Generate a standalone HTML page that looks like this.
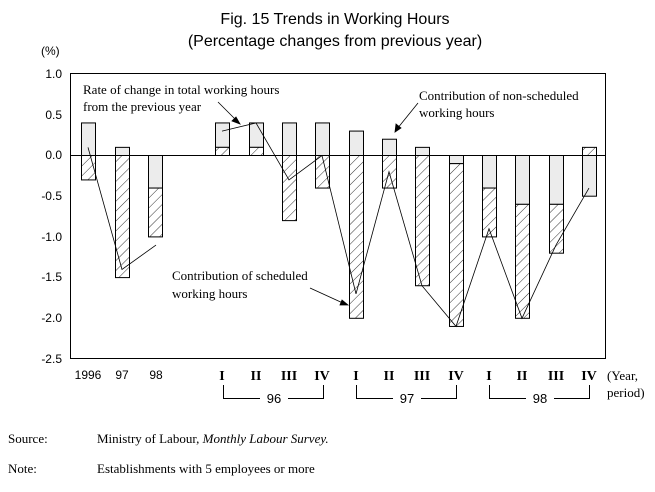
<!DOCTYPE html>
<html><head><style>
body{margin:0;background:#fff;width:655px;height:487px;overflow:hidden}
</style></head><body>
<svg width="655" height="487" xmlns="http://www.w3.org/2000/svg" font-family="Liberation Sans, sans-serif">
<defs>
<pattern id="h" patternUnits="userSpaceOnUse" width="7" height="7" patternTransform="rotate(45)">
<rect width="7" height="7" fill="#fff"/><line x1="0" y1="0" x2="0" y2="7" stroke="#000" stroke-width="0.8"/>
</pattern>
</defs>
<text x="335" y="24" font-size="16" text-anchor="middle">Fig. 15  Trends in Working Hours</text>
<text x="335" y="46" font-size="16" text-anchor="middle">(Percentage changes from previous year)</text>
<text x="41" y="55" font-size="12">(%)</text>
<g font-size="12" text-anchor="end">
<text x="62" y="78">1.0</text><text x="62" y="119">0.5</text><text x="62" y="159">0.0</text>
<text x="62" y="200">-0.5</text><text x="62" y="241">-1.0</text><text x="62" y="281">-1.5</text>
<text x="62" y="322">-2.0</text><text x="62" y="363">-2.5</text>
</g>
<rect x="70.5" y="73.5" width="535" height="285" fill="none" stroke="#000"/>
<g stroke="#000" stroke-width="1">
<rect x="81.5" y="122.94" width="14" height="32.56" fill="#ececec"/><rect x="81.5" y="155.5" width="14" height="24.42" fill="url(#h)"/>
<rect x="115.5" y="147.36" width="14" height="8.14" fill="#ececec"/><rect x="115.5" y="155.5" width="14" height="122.1" fill="url(#h)"/>
<rect x="148.5" y="155.5" width="14" height="32.56" fill="#ececec"/><rect x="148.5" y="188.06" width="14" height="48.84" fill="url(#h)"/>
<rect x="215.5" y="122.94" width="14" height="24.42" fill="#ececec"/><rect x="215.5" y="147.36" width="14" height="8.14" fill="url(#h)"/>
<rect x="249.5" y="122.94" width="14" height="24.42" fill="#ececec"/><rect x="249.5" y="147.36" width="14" height="8.14" fill="url(#h)"/>
<rect x="282.5" y="122.94" width="14" height="32.56" fill="#ececec"/><rect x="282.5" y="155.5" width="14" height="65.12" fill="url(#h)"/>
<rect x="315.5" y="122.94" width="14" height="32.56" fill="#ececec"/><rect x="315.5" y="155.5" width="14" height="32.56" fill="url(#h)"/>
<rect x="349.5" y="131.08" width="14" height="24.42" fill="#ececec"/><rect x="349.5" y="155.5" width="14" height="162.8" fill="url(#h)"/>
<rect x="382.5" y="139.22" width="14" height="16.28" fill="#ececec"/><rect x="382.5" y="155.5" width="14" height="32.56" fill="url(#h)"/>
<rect x="415.5" y="147.36" width="14" height="8.14" fill="#ececec"/><rect x="415.5" y="155.5" width="14" height="130.24" fill="url(#h)"/>
<rect x="449.5" y="155.5" width="14" height="8.14" fill="#ececec"/><rect x="449.5" y="163.64" width="14" height="162.8" fill="url(#h)"/>
<rect x="482.5" y="155.5" width="14" height="32.56" fill="#ececec"/><rect x="482.5" y="188.06" width="14" height="48.84" fill="url(#h)"/>
<rect x="515.5" y="155.5" width="14" height="48.84" fill="#ececec"/><rect x="515.5" y="204.34" width="14" height="113.96" fill="url(#h)"/>
<rect x="549.5" y="155.5" width="14" height="48.84" fill="#ececec"/><rect x="549.5" y="204.34" width="14" height="48.84" fill="url(#h)"/>
<rect x="582.5" y="155.5" width="14" height="40.7" fill="#ececec"/><rect x="582.5" y="147.36" width="14" height="8.14" fill="url(#h)"/>
</g>
<polyline fill="none" stroke="#000" stroke-width="0.8" points="88,147.36 122,269.46 156,245.04"/>
<polyline fill="none" stroke="#000" stroke-width="0.8" points="222,131.08 256,122.94 289,179.92 322,155.5 356,293.88 389,171.78 422,285.74 456,326.44 489,228.76 522,318.3 556,245.04 589,188.06"/>
<line x1="70" y1="155.5" x2="605" y2="155.5" stroke="#000"/>
<g font-family="Liberation Serif, serif" font-size="13">
<text x="83" y="94">Rate of change in total working hours</text>
<text x="83" y="111">from the previous year</text>
<text x="419" y="100">Contribution of non-scheduled</text>
<text x="419" y="117">working hours</text>
<text x="172" y="280">Contribution of scheduled</text>
<text x="172" y="298">working hours</text>
</g>
<g stroke="#000" stroke-width="0.8">
<line x1="218" y1="102" x2="238" y2="122"/><polygon points="240,124 232,121 236,117" fill="#000"/>
<line x1="418" y1="103" x2="397" y2="129"/><polygon points="395,132 396,124 401,128" fill="#000"/>
<line x1="310" y1="288" x2="345" y2="304"/><polygon points="348,305 340,305 342,300" fill="#000"/>
</g>
<g font-size="12" text-anchor="middle">
<text x="88" y="379">1996</text><text x="122" y="379">97</text><text x="156" y="379">98</text>
</g>
<g font-family="Liberation Serif, serif" font-size="14" font-weight="bold" text-anchor="middle">
<text x="222" y="380">I</text><text x="256" y="380">II</text><text x="289" y="380">III</text><text x="322" y="380">IV</text>
<text x="356" y="380">I</text><text x="389" y="380">II</text><text x="422" y="380">III</text><text x="456" y="380">IV</text>
<text x="489" y="380">I</text><text x="522" y="380">II</text><text x="556" y="380">III</text><text x="589" y="380">IV</text>
</g>
<g stroke="#000" fill="none" stroke-width="1">
<polyline points="223.5,385 223.5,398.5 260,398.5"/><polyline points="288,398.5 323.5,398.5 323.5,385"/>
<polyline points="356.5,385 356.5,398.5 393,398.5"/><polyline points="421,398.5 456.5,398.5 456.5,385"/>
<polyline points="489.5,385 489.5,398.5 526,398.5"/><polyline points="554,398.5 589.5,398.5 589.5,385"/>
</g>
<g font-size="13" text-anchor="middle"><text x="274" y="403">96</text><text x="407" y="403">97</text><text x="540" y="403">98</text></g>
<g font-family="Liberation Serif, serif" font-size="13">
<text x="607" y="380">(Year,</text><text x="607" y="397">period)</text>
<text x="8" y="443">Source:</text><text x="97" y="443">Ministry of Labour, <tspan font-style="italic">Monthly Labour Survey.</tspan></text>
<text x="8" y="473">Note:</text><text x="97" y="473">Establishments with 5 employees or more</text>
</g>
</svg>
</body></html>
